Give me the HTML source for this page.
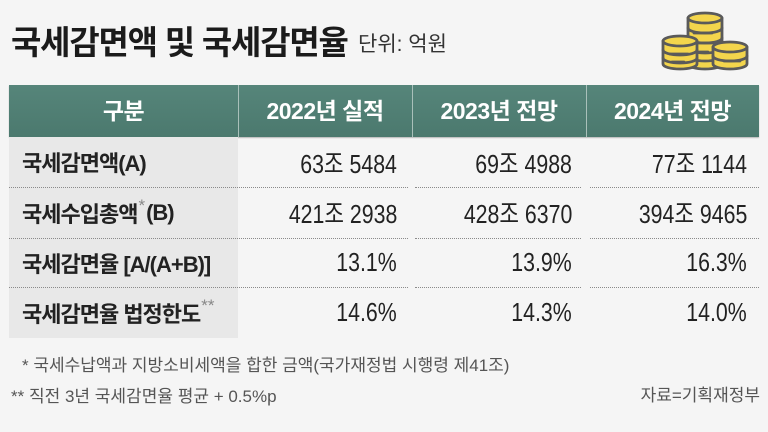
<!DOCTYPE html>
<html><head><meta charset="utf-8">
<style>
html,body{margin:0;padding:0;}
body{width:768px;height:432px;background:#f5f5f5;position:relative;overflow:hidden;font-family:"Liberation Sans","Noto Sans CJK KR",sans-serif;}
.abs{position:absolute;}
.title{left:11px;top:22px;font-size:33px;font-weight:bold;color:#1b1b1b;letter-spacing:-1.2px;line-height:42px;white-space:nowrap;}
.unit{left:358px;top:26px;font-size:21px;color:#333;line-height:38px;white-space:nowrap;}
.hdr{left:9px;top:85px;width:750px;height:52px;background:linear-gradient(#56857a,#4b796e);box-shadow:0 1px 1px rgba(0,0,0,0.25);}
.hcell{position:absolute;top:0;height:52px;line-height:52px;text-align:center;color:#fff;font-weight:bold;font-size:23px;letter-spacing:-0.5px;white-space:nowrap;}
.vdiv{position:absolute;top:0;width:1px;height:52px;background:#a9c0ba;}
.lblbg{left:9px;top:137px;width:229px;height:201px;background:#e8e8e8;}
.lbl{position:absolute;left:22px;font-weight:bold;font-size:22px;color:#222;letter-spacing:-1px;white-space:nowrap;display:flex;align-items:center;}
.sup{font-weight:normal;color:#888;font-size:17px;position:relative;top:-7px;letter-spacing:0;margin:0 1px;}
.val{position:absolute;font-size:26px;color:#222;white-space:nowrap;transform:scaleX(0.82);transform-origin:right center;text-align:right;display:flex;align-items:center;justify-content:flex-end;}
.dot{position:absolute;height:0;border-top:1px dotted #8a8a8a;}
.fn{font-size:17px;color:#555;white-space:nowrap;line-height:20px;}
</style></head><body>

<div class="abs title">국세감면액 및 국세감면율</div>
<div class="abs unit">단위: 억원</div>

<svg class="abs" style="left:655px;top:5px" width="100" height="70" viewBox="655 5 100 70">
  <g stroke="#5a5a5a" stroke-width="2.8" fill="#f3d54c" stroke-linejoin="round" stroke-linecap="round">
    <!-- middle stack -->
    <path d="M688 18 L688 64 A17 5 0 0 0 722 64 L722 18 Z"/>
    <ellipse cx="705" cy="18" rx="17" ry="5"/>
    <path fill="none" d="M688 28 A17 5 0 0 0 722 28 M688 38 A17 5 0 0 0 722 38 M688 48 A17 5 0 0 0 722 48 M688 56 A17 5 0 0 0 722 56"/>
    <path fill="none" d="M694 33 L712 33 M698 43 L716 43 M692 52 L708 52"/>
    <!-- left stack -->
    <path d="M663 41 L663 64 A17 5 0 0 0 697 64 L697 41 Z"/>
    <ellipse cx="680" cy="41" rx="17" ry="5"/>
    <path fill="none" d="M663 50 A17 5 0 0 0 697 50 M663 58 A17 5 0 0 0 697 58"/>
    <path fill="none" d="M670 54 L688 54 M672 62 L684 62"/>
    <!-- right stack -->
    <path d="M713 47 L713 64 A17 5 0 0 0 747 64 L747 47 Z"/>
    <ellipse cx="730" cy="47" rx="17" ry="5"/>
    <path fill="none" d="M713 56 A17 5 0 0 0 747 56"/>
    <path fill="none" d="M724 61 L740 61"/>
  </g>
</svg>

<div class="abs hdr">
  <div class="hcell" style="left:0;width:229px;">구분</div>
  <div class="vdiv" style="left:229px;"></div>
  <div class="hcell" style="left:229px;width:174px;">2022년 실적</div>
  <div class="vdiv" style="left:403px;"></div>
  <div class="hcell" style="left:403px;width:174px;">2023년 전망</div>
  <div class="vdiv" style="left:577px;"></div>
  <div class="hcell" style="left:577px;width:173px;">2024년 전망</div>
</div>

<div class="abs lblbg"></div>

<!-- dotted lines -->
<div class="dot" style="left:9px;width:399px;top:187px;"></div>
<div class="dot" style="left:415px;width:166px;top:187px;"></div>
<div class="dot" style="left:590px;width:169px;top:187px;"></div>
<div class="dot" style="left:9px;width:399px;top:238px;"></div>
<div class="dot" style="left:415px;width:166px;top:238px;"></div>
<div class="dot" style="left:590px;width:169px;top:238px;"></div>
<div class="dot" style="left:9px;width:399px;top:287px;"></div>
<div class="dot" style="left:415px;width:166px;top:287px;"></div>
<div class="dot" style="left:590px;width:169px;top:287px;"></div>

<!-- row labels -->
<div class="lbl" style="top:137px;height:50px;">국세감면액(A)</div>
<div class="lbl" style="top:187px;height:51px;">국세수입총액<span class="sup">*</span>(B)</div>
<div class="lbl" style="top:238px;height:49px;">국세감면율 [A/(A+B)]</div>
<div class="lbl" style="top:287px;height:51px;">국세감면율 법정한도<span class="sup">**</span></div>

<!-- values row 1 -->
<div class="val" style="right:371px;top:137px;height:50px;">63조 5484</div>
<div class="val" style="right:196px;top:137px;height:50px;">69조 4988</div>
<div class="val" style="right:21px;top:137px;height:50px;">77조 1144</div>
<!-- row 2 -->
<div class="val" style="right:371px;top:187px;height:51px;">421조 2938</div>
<div class="val" style="right:196px;top:187px;height:51px;">428조 6370</div>
<div class="val" style="right:21px;top:187px;height:51px;">394조 9465</div>
<!-- row 3 -->
<div class="val" style="right:371px;top:238px;height:49px;">13.1%</div>
<div class="val" style="right:196px;top:238px;height:49px;">13.9%</div>
<div class="val" style="right:21px;top:238px;height:49px;">16.3%</div>
<!-- row 4 -->
<div class="val" style="right:371px;top:287px;height:51px;">14.6%</div>
<div class="val" style="right:196px;top:287px;height:51px;">14.3%</div>
<div class="val" style="right:21px;top:287px;height:51px;">14.0%</div>

<!-- footnotes -->
<div class="abs fn" style="left:22px;top:356px;">* 국세수납액과 지방소비세액을 합한 금액(국가재정법 시행령 제41조)</div>
<div class="abs fn" style="left:11px;top:387px;">** 직전 3년 국세감면율 평균 + 0.5%p</div>
<div class="abs fn" style="right:8px;top:386px;">자료=기획재정부</div>

</body></html>
